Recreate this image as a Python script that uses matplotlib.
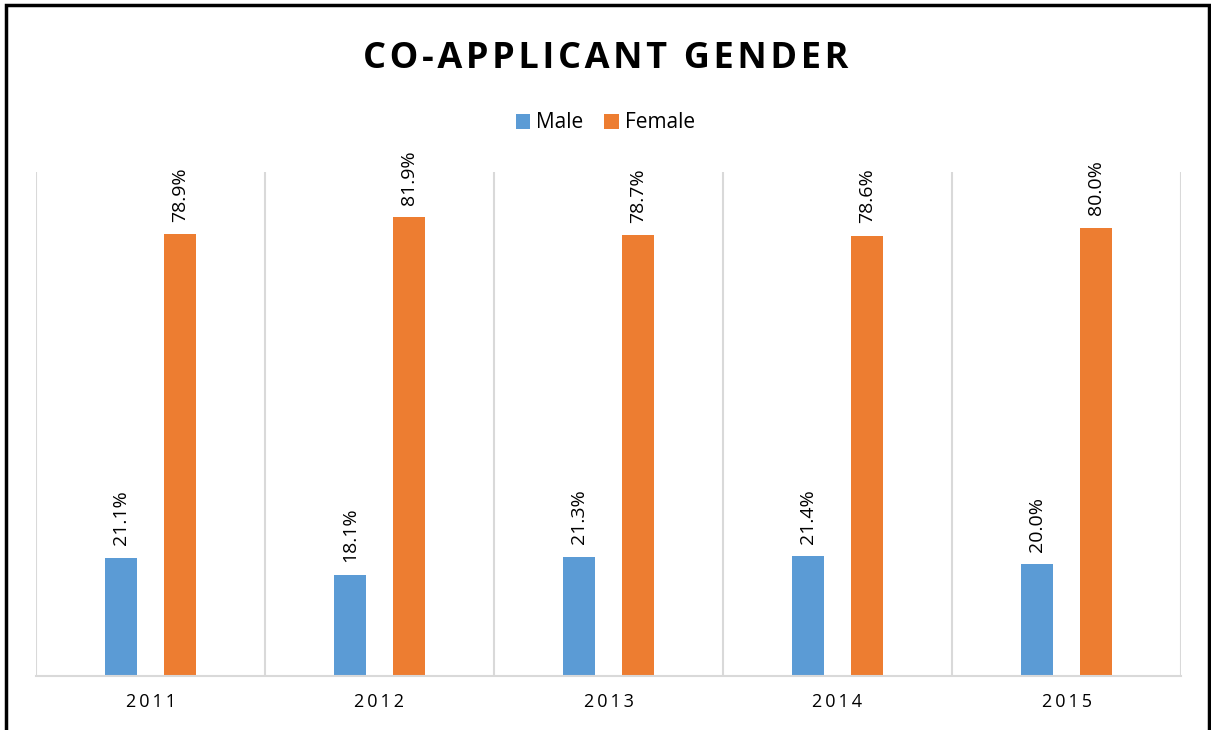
import numpy as np
import matplotlib
matplotlib.use("Agg")
import matplotlib.pyplot as plt
from matplotlib.patches import Rectangle

plt.rcParams["font.family"] = ["Open Sans", "DejaVu Sans"]

years = ["2011", "2012", "2013", "2014", "2015"]
male = [21.1, 18.1, 21.3, 21.4, 20.0]
female = [78.9, 81.9, 78.7, 78.6, 80.0]

c_male = "#5B9BD5"
c_female = "#ED7D31"
grid_c = "#D9D9D9"

fig = plt.figure(figsize=(12.11, 7.30), dpi=100)
ax = fig.add_axes([36 / 1211, 54 / 730, 1145 / 1211, 504 / 730])

x = np.arange(len(years))
w = 0.14
off = 0.13
ax.bar(x - off, male, w, color=c_male, label="Male")
ax.bar(x + off, female, w, color=c_female, label="Female")

# data labels, rotated like the original
for xi, v in zip(x, male):
    ax.annotate(f"{v:.1f}%", (xi - off, v), xytext=(0, 9), textcoords="offset points",
                rotation=90, ha="center", va="bottom", fontsize=14)
for xi, v in zip(x, female):
    ax.annotate(f"{v:.1f}%", (xi + off, v), xytext=(0, 9), textcoords="offset points",
                rotation=90, ha="center", va="bottom", fontsize=14)

ax.set_xlim(-0.5, len(years) - 0.5)
ax.set_ylim(0, 90)
ax.set_yticks([])
ax.set_xticks(x)
ax.set_xticklabels(["\u2009".join(y) for y in years], fontsize=13)
ax.set_xticks(np.arange(-0.5, len(years)), minor=True)
ax.tick_params(axis="x", which="both", length=0, pad=12)
ax.grid(axis="x", which="minor", color=grid_c, linewidth=1.5)
for s in ["top", "right", "left"]:
    ax.spines[s].set_visible(False)
ax.spines["bottom"].set_color(grid_c)
ax.spines["bottom"].set_linewidth(1.5)
ax.set_axisbelow(True)

fig.text(0.5, 1 - 59 / 730, "\u200a".join("CO-APPLICANT GENDER"),
         ha="center", va="center", fontsize=26, fontweight="bold")

leg = fig.legend(loc="center", bbox_to_anchor=(0.5, 1 - 123 / 730), ncol=2, frameon=False,
                 fontsize=15, handlelength=0.7, handleheight=0.7, handletextpad=0.3,
                 columnspacing=1.0)

fig.patches.append(Rectangle((6 / 1211, -0.01), 1203 / 1211, 1 - 5 / 730 + 0.01,
                             transform=fig.transFigure, fill=False, edgecolor="black",
                             linewidth=2.5))

fig.savefig("out.png", dpi=100)
